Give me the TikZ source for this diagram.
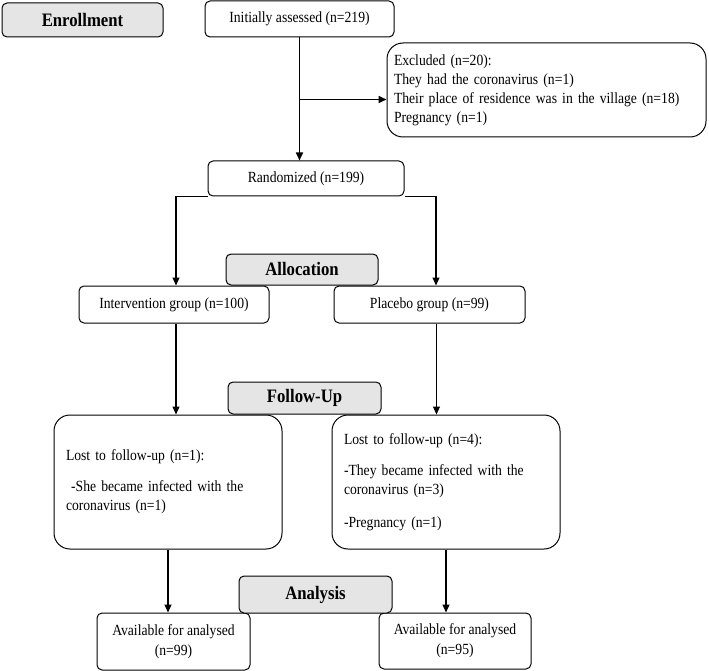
\documentclass[tikz,border=0pt]{standalone}
\usepackage{fontspec}
\setmainfont[FakeStretch=0.88]{Liberation Serif}
\usetikzlibrary{arrows.meta}

\begin{document}
\begin{tikzpicture}[x=1pt,y=-1pt,
    box/.style={draw, rounded corners=5pt, line width=1pt, inner sep=0pt, align=center, font=\fontsize{15.5}{20}\selectfont},
    bigbox/.style={draw, rounded corners=16pt, line width=1pt, inner xsep=7pt, inner ysep=0pt, align=left, font=\fontsize{15.5}{19}\selectfont},
    stage/.style={draw, fill=gray!20, rounded corners=5pt, line width=1pt, inner sep=0pt, font=\fontsize{19}{20}\selectfont\bfseries},
    arr/.style={-{Triangle[length=8pt,width=7pt]}, line width=1.1pt}]
  \useasboundingbox (0,0) rectangle (709,671);
  % Enrollment
  \node[stage, minimum width=161pt, minimum height=34pt] (enroll) at (82.5,20) {Enrollment};
  \node[box, minimum width=189pt, minimum height=36pt] (assess) at (299.5,19) {Initially assessed (n=219)};
  \node[bigbox, text width=305pt, minimum height=94pt] (excl) at (546.5,90)
    {Excluded (n=20):\\ They had the coronavirus (n=1)\\ Their place of residence was in the village (n=18)\\ Pregnancy (n=1)};
  \node[box, minimum width=196pt, minimum height=35pt] (rand) at (306,178.5) {Randomized (n=199)};
  % Allocation
  \node[box, minimum width=190pt, minimum height=37pt] (interv) at (174,304.5) {Intervention group (n=100)};
  \node[box, minimum width=191pt, minimum height=37pt] (placebo) at (429.5,304.5) {Placebo group (n=99)};
  \node[stage, minimum width=152pt, minimum height=31pt] (alloc) at (302,269.5) {Allocation};
  % Follow-up
  \node[bigbox, inner xsep=12pt, text width=204pt, minimum height=134pt] (lostA) at (168,482)
    {Lost to follow-up (n=1):\\[12pt] \ -She became infected with the\\ coronavirus (n=1)};
  \node[bigbox, inner xsep=12pt, text width=204pt, minimum height=134pt] (lostB) at (446,482)
    {Lost to follow-up (n=4):\\[12pt] -They became infected with the\\ coronavirus (n=3)\\[14pt] -Pregnancy (n=1)};
  \node[stage, minimum width=153pt, minimum height=32pt] (follow) at (304.5,398) {Follow-Up};
  % Analysis
  \node[box, minimum width=153pt, minimum height=57pt] (availA) at (173.5,641.5) {Available for analysed\\(n=99)};
  \node[box, minimum width=152pt, minimum height=56pt] (availB) at (455,641) {Available for analysed\\(n=95)};
  \node[stage, minimum width=153pt, minimum height=37pt] (analysis) at (315.5,594.5) {Analysis};
  % connectors
  \draw[arr, line width=1.6pt] (assess.south) -- (assess.south |- rand.north);
  \draw[arr, line width=1.6pt] (assess.south) ++(0,62) coordinate (split) -- (split -| excl.west);
  \draw[arr] (rand.south west) -| ([xshift=2pt]interv.north);
  \draw[arr] (rand.south east) -| ([xshift=6.5pt]placebo.north);
  \draw[arr] ([xshift=2pt]interv.south) -- ([xshift=2pt]interv.south |- lostA.north);
  \draw[arr] ([xshift=7pt]placebo.south) -- ([xshift=7pt]placebo.south |- lostB.north);
  \draw[arr] (lostA.south) -- (lostA.south |- availA.north);
  \draw[arr] (lostB.south) -- (lostB.south |- availB.north);
\end{tikzpicture}
\end{document}
